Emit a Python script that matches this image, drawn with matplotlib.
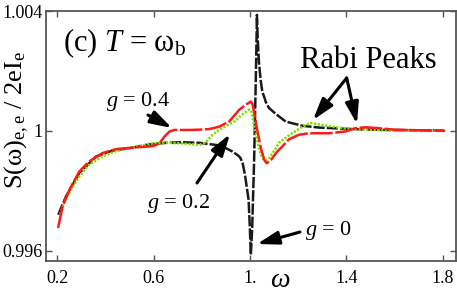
import matplotlib
matplotlib.use("Agg")
import matplotlib.pyplot as plt

plt.rcParams['font.family'] = ['Liberation Serif', 'DejaVu Serif']
plt.rcParams['mathtext.fontset'] = 'custom'
plt.rcParams['mathtext.rm'] = 'Liberation Serif'
plt.rcParams['mathtext.it'] = 'Liberation Serif:italic'

# ---- data ----
g0_x = [0.204, 0.236, 0.291, 0.36, 0.429, 0.512, 0.583, 0.65, 0.721, 0.79, 0.859, 0.9, 0.927,
        0.95, 0.96, 0.97, 0.98, 0.994, 0.999, 1.0033, 1.0087, 1.017, 1.023, 1.0273, 1.0285,
        1.032, 1.037, 1.044, 1.051, 1.059, 1.065, 1.078, 1.106, 1.148, 1.217, 1.286, 1.424,
        1.561, 1.81]
g0_y = [0.9972, 0.99781, 0.99859, 0.99914, 0.99934, 0.99944, 0.99955, 0.9996, 0.99962, 0.9996,
        0.99953, 0.99942, 0.99931, 0.99918, 0.9991, 0.9989, 0.99848, 0.9977, 0.99681, 0.99587,
        0.9967, 0.99903, 1.00137, 1.0032, 1.00387, 1.00303, 1.0023, 1.0017, 1.0013, 1.00113,
        1.00097, 1.00077, 1.00057, 1.00031, 1.00017, 1.00011, 1.00006, 1.00003, 1.00001]

g02_x = [0.212, 0.236, 0.291, 0.332, 0.388, 0.443, 0.512, 0.583, 0.65, 0.721, 0.79, 0.817,
         0.838, 0.865, 0.9, 0.934, 0.969, 0.996, 1.004, 1.01, 1.024, 1.038, 1.051, 1.063,
         1.079, 1.107, 1.12, 1.162, 1.175, 1.217, 1.251, 1.299, 1.355, 1.423, 1.52, 1.65, 1.81]
g02_y = [0.99722, 0.99775, 0.99848, 0.99887, 0.99915, 0.99932, 0.99944, 0.99957, 0.9996,
         0.99958, 0.99953, 0.99962, 0.99982, 1.0, 1.00016, 1.00031, 1.00055, 1.00071, 1.00068,
         1.00048, 0.99992, 0.99937, 0.99909, 0.99901, 0.99909, 0.99942, 0.9996, 0.99985,
         0.99992, 1.00014, 1.00026, 1.0002, 1.00012, 1.00006, 1.00003, 1.00001, 1.0]

g04_x = [0.203, 0.222, 0.25, 0.291, 0.332, 0.388, 0.443, 0.512, 0.583, 0.605, 0.624, 0.645,
         0.666, 0.686, 0.748, 0.79, 0.831, 0.872, 0.913, 0.955, 0.98, 0.996, 1.003, 1.01,
         1.017, 1.031, 1.045, 1.059, 1.069, 1.087, 1.113, 1.134, 1.162, 1.203, 1.244, 1.327,
         1.396, 1.437, 1.479, 1.533, 1.6, 1.7, 1.81]
g04_y = [0.99676, 0.99748, 0.99803, 0.99864, 0.99898, 0.99926, 0.99939, 0.99944, 0.99948,
         0.99951, 0.99959, 0.99981, 0.99998, 1.00003, 1.00003, 1.00004, 1.00006, 1.00014,
         1.00031, 1.0007, 1.00086, 1.00094, 1.00098, 1.0009, 1.00062, 0.99998, 0.99942,
         0.99903, 0.99892, 0.99903, 0.99931, 0.99948, 0.99972, 0.99987, 0.99992, 0.99992,
         0.99998, 1.00009, 1.00012, 1.00009, 1.00004, 1.00002, 1.0]

x_ticks = [0.2, 0.6, 1.0, 1.4, 1.8]
x_ticklabels = ["0.2", "0.6", "1.", "1.4", "1.8"]
y_ticks = [0.996, 1.0, 1.004]
y_ticklabels = ["0.996", "1", "1.004"]

W, H = 457, 295
fig = plt.figure(figsize=(W / 100, H / 100), dpi=100)
L, R, T, B = 46, 456, 11, 260.7
ax = fig.add_axes([L / W, (H - B) / H, (R - L) / W, (B - T) / H])

ax.plot(g0_x, g0_y, color='#1a1a1a', lw=1.8, dashes=(4.5, 0.8))
ax.plot(g02_x, g02_y, color='#7fe000', lw=1.8, dashes=(0.9, 0.6))
ax.plot(g04_x, g04_y, color='#ff1a1a', lw=1.8, dashes=(9, 1.0))

ax.set_xlim(0.153, 1.855)
ax.set_ylim(0.995667, 1.004)
ax.set_xticks(x_ticks)
ax.set_xticklabels(x_ticklabels)
ax.set_yticks(y_ticks)
ax.set_yticklabels(y_ticklabels)
ax.tick_params(direction='in', length=4, width=1, color='#555555', labelsize=13,
               top=True, right=True)
ax.tick_params(axis='x', pad=6.5)
ax.tick_params(axis='y', pad=2.5)
for s in ax.spines.values():
    s.set_color('#555555')
    s.set_linewidth(1.3)

ax.set_ylabel(r"S(ω)$_{\mathrm{e,e}}$ / 2eI$_{\mathrm{e}}$", fontsize=19)
ax.yaxis.set_label_coords(-(46 - 17) / 410, 0.565)
ax.yaxis.label.set_va('center')


def fx(px):
    return (px - L) / (R - L)


def fy(py):
    return (B - py) / (B - T)


ax.text(fx(280), fy(287), r"$\omega$", fontsize=20, transform=ax.transAxes,
        ha='center', va='baseline', clip_on=False)

ax.text(fx(63), fy(51), r"(c) $T$ = ω$_{\mathrm{b}}$", fontsize=22, transform=ax.transAxes,
        ha='left', va='baseline')
ax.text(fx(106), fy(106), r"$g$ = 0.4", fontsize=16, transform=ax.transAxes,
        ha='left', va='baseline')
ax.text(fx(146.7), fy(208.3), r"$g$ = 0.2", fontsize=16, transform=ax.transAxes,
        ha='left', va='baseline')
ax.text(fx(305), fy(235), r"$g$ = 0", fontsize=16, transform=ax.transAxes,
        ha='left', va='baseline')
ax.text(fx(300), fy(68.3), "Rabi Peaks", fontsize=22, transform=ax.transAxes,
        ha='left', va='baseline')

arrows = [((148, 115), (172, 128)),
          ((197, 183), (230, 134)),
          ((300, 232), (257, 244)),
          ((346.7, 78), (313, 120)),
          ((346.7, 78), (357, 124))]
for (tx, ty), (hx, hy) in arrows:
    ax.annotate("", xy=(fx(hx), fy(hy)), xytext=(fx(tx), fy(ty)),
                xycoords='axes fraction', textcoords='axes fraction',
                arrowprops=dict(arrowstyle='-|>,head_length=0.65,head_width=0.2',
                                color='black', lw=2.2, shrinkA=0, shrinkB=0,
                                mutation_scale=20))

fig.savefig("out.png", dpi=100)
